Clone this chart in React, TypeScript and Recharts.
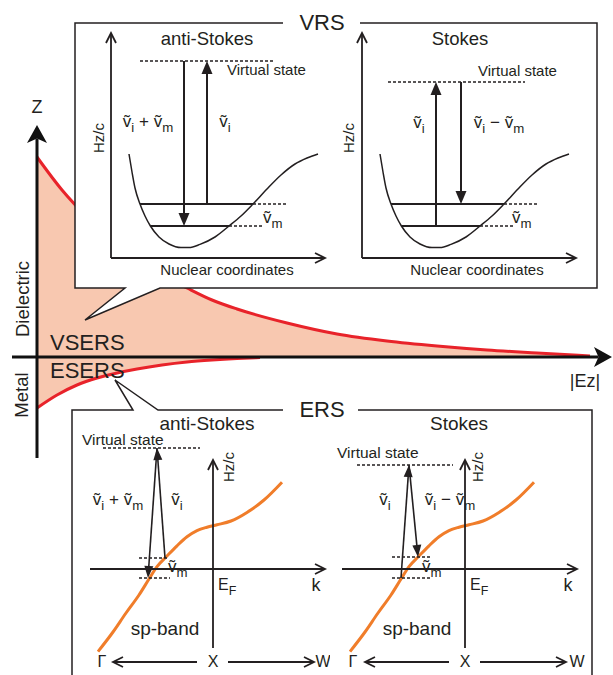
import React from 'react';
import { ComposedChart, LineChart, Area, Line, XAxis, YAxis, ReferenceLine, ReferenceDot } from 'recharts';

const INK = '#231f20';
const RED = '#e8232a';
const SALMON = '#f8c8b0';
const ORANGE = '#f07d2a';
const FONT = '"Liberation Sans", Arial, Helvetica, sans-serif';

// field profile |Ez| vs Z (dielectric side / metal side)
const dielectricX = [0, 0.25, 0.5, 0.75, 1.0, 1.25, 1.5, 1.75, 2.0, 2.5, 3.0, 3.5, 4.0, 4.5, 5.0, 5.53];
const dielectricZ = [2.0, 1.67, 1.4, 1.17, 0.98, 0.82, 0.69, 0.57, 0.48, 0.34, 0.23, 0.16, 0.11, 0.07, 0.04, 0.01];
const metalX = [0, 0.2, 0.4, 0.6, 0.8, 1.0, 1.25, 1.5, 1.75, 2.0, 2.23];
const metalZ = [-0.51, -0.38, -0.28, -0.21, -0.16, -0.12, -0.08, -0.05, -0.03, -0.015, -0.005];

// VRS: vibrational potential (nuclear coordinate vs Hz/c)
const potentialX = [0.9, 1.05, 1.2, 1.45, 1.7, 1.97, 2.4, 2.9, 3.5, 3.9, 4.45, 5.2, 5.9, 6.5, 7.1, 7.8, 8.5, 9.2, 9.8, 10.35];
const potentialY = [5.2, 4.3, 3.5, 2.7, 2.1, 1.6, 1.05, 0.7, 0.52, 0.52, 0.68, 1.05, 1.6, 2.1, 2.7, 3.45, 4.15, 4.7, 5.0, 5.2];
// vibrational levels v=0, v=1: energy, solid from, solid to, dashed to
const levelY = [1.6, 2.7];
const levelFrom = [1.97, 1.45];
const levelTo = [5.9, 7.1];
const levelDashTo = [7.55, 8.8];
// virtual state [energy, from, to]
const vrsAntiVirtual = [9.85, 1.45, 8.2];
const vrsStokesVirtual = [8.8, 1.3, 8.15];
// transitions [x, from energy, to energy]
const vrsAntiArrows = [[3.65, 9.85, 1.6], [4.8, 2.7, 9.85]];
const vrsStokesArrows = [[3.7, 1.6, 8.8], [4.95, 8.8, 2.7]];

// ERS: sp-band dispersion (k vs Hz/c)
const bandX = [-5.75, -5.0, -4.35, -3.7, -3.2, -2.8, -2.3, -1.8, -1.3, -0.8, -0.3, 0.2, 0.9, 1.7, 2.55, 3.45];
const bandY = [-4.13, -3.15, -2.2, -1.3, -0.5, 0.12, 0.65, 1.16, 1.61, 1.92, 2.09, 2.21, 2.4, 2.83, 3.45, 4.34];
// virtual state [energy, from, to]
const ersAntiVirtual = [6.05, -5.5, -0.65];
const ersStokesVirtual = [5.2, -5.4, -0.6];
// short dashed levels [energy, from, to]
const ersAntiLevels = [[0.55, -3.7, -2.25], [-0.45, -3.7, -2.15]];
const ersStokesLevels = [[0.6, -3.65, -1.75], [-0.45, -3.65, -1.75]];
// slanted transitions [x1, y1, x2, y2]
const ersAntiArrows = [[-2.8, 6.05, -3.25, -0.45], [-2.4, 0.55, -2.8, 6.05]];
const ersStokesArrows = [[-3.2, -0.45, -2.8, 5.2], [-2.8, 5.2, -2.35, 0.6]];

const zip = (xs: number[], ys: number[], k = 'y') => xs.map((x, i) => ({ x, [k]: ys[i] }));
const dielectric = zip(dielectricX, dielectricZ, 'z');
const metal = zip(metalX, metalZ, 'z');
const potential = zip(potentialX, potentialY);
const band = zip(bandX, bandY);

type Lbl = { t: string; x: number; y: number; s: number; a?: 'start' | 'middle' | 'end'; r?: boolean };

const NU = 'ṽ';

const mainLabels: Lbl[] = [
  { t: 'Z', x: 0, y: 2.44, s: 18, a: 'middle' },
  { t: '|Ez|', x: 5.48, y: -0.3, s: 18, a: 'middle' },
  { t: 'Dielectric', x: -0.15, y: 0.58, s: 18.5, a: 'middle', r: true },
  { t: 'Metal', x: -0.16, y: -0.38, s: 18.5, a: 'middle', r: true },
  { t: 'VSERS', x: 0.13, y: 0.07, s: 22 },
  { t: 'ESERS', x: 0.13, y: -0.21, s: 22 },
];

const vrsAntiLabels: Lbl[] = [
  { t: 'anti-Stokes', x: 4.8, y: 10.65, s: 18.5, a: 'middle' },
  { t: 'Virtual state', x: 5.8, y: 9.15, s: 15 },
  { t: `${NU}_i + ${NU}_m`, x: 1.85, y: 6.55, s: 17, a: 'middle' },
  { t: `${NU}_i`, x: 5.7, y: 6.55, s: 17, a: 'middle' },
  { t: `${NU}_m`, x: 7.6, y: 1.75, s: 17 },
  { t: 'Nuclear coordinates', x: 5.8, y: -0.85, s: 15, a: 'middle' },
  { t: 'Hz/c', x: -0.65, y: 6.0, s: 15, a: 'middle', r: true },
];

const vrsStokesLabels: Lbl[] = [
  { t: 'Stokes', x: 4.9, y: 10.65, s: 18.5, a: 'middle' },
  { t: 'Virtual state', x: 5.8, y: 9.1, s: 15 },
  { t: `${NU}_i`, x: 2.85, y: 6.5, s: 17, a: 'middle' },
  { t: `${NU}_i − ${NU}_m`, x: 6.85, y: 6.5, s: 17, a: 'middle' },
  { t: `${NU}_m`, x: 7.5, y: 1.75, s: 17 },
  { t: 'Nuclear coordinates', x: 5.75, y: -0.85, s: 15, a: 'middle' },
  { t: 'Hz/c', x: -0.7, y: 6.0, s: 15, a: 'middle', r: true },
];

const ersAntiLabels: Lbl[] = [
  { t: 'anti-Stokes', x: -0.3, y: 6.95, s: 19, a: 'middle' },
  { t: 'Virtual state', x: -6.55, y: 6.2, s: 15.5 },
  { t: `${NU}_i + ${NU}_m`, x: -4.75, y: 3.2, s: 17, a: 'middle' },
  { t: `${NU}_i`, x: -1.8, y: 3.2, s: 17, a: 'middle' },
  { t: `${NU}_m`, x: -2.25, y: -0.15, s: 17 },
  { t: 'E_F', x: 0.25, y: -1.05, s: 16 },
  { t: 'k', x: 5.15, y: -1.1, s: 18, a: 'middle' },
  { t: 'Hz/c', x: 0.75, y: 5.1, s: 15, a: 'middle', r: true },
  { t: 'sp-band', x: -2.4, y: -3.3, s: 19, a: 'middle' },
  { t: 'Γ', x: -5.55, y: -4.9, s: 16, a: 'middle' },
  { t: 'X', x: 0, y: -4.9, s: 16, a: 'middle' },
  { t: 'W', x: 5.5, y: -4.9, s: 16, a: 'middle' },
];

const ersStokesLabels: Lbl[] = [
  { t: 'Stokes', x: -0.3, y: 6.95, s: 19, a: 'middle' },
  { t: 'Virtual state', x: -6.4, y: 5.55, s: 15.5 },
  { t: `${NU}_i`, x: -4.0, y: 3.2, s: 17, a: 'middle' },
  { t: `${NU}_i − ${NU}_m`, x: -0.75, y: 3.2, s: 17, a: 'middle' },
  { t: `${NU}_m`, x: -2.15, y: -0.15, s: 17 },
  { t: 'E_F', x: 0.25, y: -1.05, s: 16 },
  { t: 'k', x: 5.15, y: -1.1, s: 18, a: 'middle' },
  { t: 'Hz/c', x: 0.6, y: 5.1, s: 15, a: 'middle', r: true },
  { t: 'sp-band', x: -2.4, y: -3.3, s: 19, a: 'middle' },
  { t: 'Γ', x: -5.6, y: -4.9, s: 16, a: 'middle' },
  { t: 'X', x: 0, y: -4.9, s: 16, a: 'middle' },
  { t: 'W', x: 5.6, y: -4.9, s: 16, a: 'middle' },
];

// text with "_x" subscripts
function rich(text: string, size: number) {
  const parts = text.split('_');
  const out: React.ReactNode[] = [<tspan key="p0">{parts[0]}</tspan>];
  const shift = size * 0.3;
  for (let i = 1; i < parts.length; i++) {
    out.push(<tspan key={'s' + i} dy={shift} fontSize={size * 0.78}>{parts[i][0]}</tspan>);
    const rest = parts[i].slice(1);
    if (rest) out.push(<tspan key={'r' + i} dy={-shift}>{rest}</tspan>);
  }
  return out;
}

function textShape(l: Lbl) {
  return (p: any) => {
    const { cx, cy } = p;
    return (
      <text
        x={cx}
        y={cy}
        fontSize={l.s}
        fontFamily={FONT}
        fill={INK}
        textAnchor={l.a || 'start'}
        dominantBaseline={l.r ? 'central' : 'alphabetic'}
        transform={l.r ? `rotate(-90 ${cx} ${cy})` : undefined}
      >
        {rich(l.t, l.s)}
      </text>
    );
  };
}

type Head = 'none' | 'filled' | 'open' | 'notch';

function lineShape(head: Head, width: number, color = INK, dash?: string, hl = 10, hw = 5) {
  return (p: any) => {
    const { x1, y1, x2, y2 } = p;
    const dx = x2 - x1;
    const dy = y2 - y1;
    const len = Math.hypot(dx, dy) || 1;
    const ux = dx / len;
    const uy = dy / len;
    const nx = -uy;
    const ny = ux;
    const bx = x2 - ux * hl;
    const by = y2 - uy * hl;
    let ex = x2;
    let ey = y2;
    let headEl: React.ReactNode = null;
    if (head === 'filled') {
      ex = bx + ux;
      ey = by + uy;
      headEl = <polygon points={`${x2},${y2} ${bx + nx * hw},${by + ny * hw} ${bx - nx * hw},${by - ny * hw}`} fill={color} />;
    } else if (head === 'notch') {
      const n = hl * 0.75;
      ex = x2 - ux * n;
      ey = y2 - uy * n;
      headEl = (
        <polygon
          points={`${x2},${y2} ${bx + nx * hw},${by + ny * hw} ${x2 - ux * n},${y2 - uy * n} ${bx - nx * hw},${by - ny * hw}`}
          fill={color}
        />
      );
    } else if (head === 'open') {
      headEl = (
        <polyline
          points={`${bx + nx * hw},${by + ny * hw} ${x2},${y2} ${bx - nx * hw},${by - ny * hw}`}
          fill="none"
          stroke={color}
          strokeWidth={width}
        />
      );
    }
    return (
      <g>
        <line x1={x1} y1={y1} x2={ex} y2={ey} stroke={color} strokeWidth={width} strokeDasharray={dash} />
        {headEl}
      </g>
    );
  };
}

const seg = (key: string, x1: number, y1: number, x2: number, y2: number, shape: any) => (
  <ReferenceLine
    key={key}
    segment={[{ x: x1, y: y1 }, { x: x2, y: y2 }]}
    ifOverflow="visible"
    shape={shape}
  />
);

const labels = (list: Lbl[], prefix: string) =>
  list.map((l, i) => (
    <ReferenceDot key={prefix + i} x={l.x} y={l.y} r={0} ifOverflow="visible" shape={textShape(l)} />
  ));

const axes = (xd: number[], yd: number[]) => [
  <XAxis key="xa" type="number" dataKey="x" domain={xd} hide allowDataOverflow />,
  <YAxis key="ya" type="number" domain={yd} hide allowDataOverflow />,
];

const DASH = '3 2';

function vrsPanel(virtual: number[], arrows: number[][], lbls: Lbl[], prefix: string) {
  const parts: React.ReactNode[] = [
    seg(prefix + 'ay', 0, 0, 0, 11.25, lineShape('open', 1.8, INK, undefined, 10, 5)),
    seg(prefix + 'ax', 0, 0, 10.7, 0, lineShape('open', 1.8, INK, undefined, 10, 5)),
  ];
  levelY.forEach((y, i) => {
    parts.push(seg(prefix + 'ls' + i, levelFrom[i], y, levelTo[i], y, lineShape('none', 1.8)));
    parts.push(seg(prefix + 'ld' + i, levelTo[i], y, levelDashTo[i], y, lineShape('none', 1.5, INK, DASH)));
  });
  parts.push(seg(prefix + 'vs', virtual[1], virtual[0], virtual[2], virtual[0], lineShape('none', 1.5, INK, DASH)));
  arrows.forEach((a, i) => {
    parts.push(seg(prefix + 'tr' + i, a[0], a[1], a[0], a[2], lineShape('filled', 2, INK, undefined, 13, 5.5)));
  });
  return parts.concat(labels(lbls, prefix + 'lb'));
}

function ersPanel(virtual: number[], lv: number[][], arrows: number[][], lbls: Lbl[], prefix: string) {
  const parts: React.ReactNode[] = [
    seg(prefix + 'ay', 0, -3.95, 0, 5.45, lineShape('open', 1.8, INK, undefined, 10, 5)),
    seg(prefix + 'ax', -6.15, 0, 5.6, 0, lineShape('open', 1.8, INK, undefined, 10, 5)),
    seg(prefix + 'gl', -0.8, -4.65, -5.0, -4.65, lineShape('open', 1.8, INK, undefined, 10, 5)),
    seg(prefix + 'gr', 0.75, -4.65, 5.05, -4.65, lineShape('open', 1.8, INK, undefined, 10, 5)),
    seg(prefix + 'vs', virtual[1], virtual[0], virtual[2], virtual[0], lineShape('none', 1.5, INK, DASH)),
  ];
  lv.forEach((l, i) => parts.push(seg(prefix + 'lv' + i, l[1], l[0], l[2], l[0], lineShape('none', 1.3, INK, DASH))));
  arrows.forEach((a, i) =>
    parts.push(seg(prefix + 'tr' + i, a[0], a[1], a[2], a[3], lineShape('filled', 1.6, INK, undefined, 12, 4.5))),
  );
  return parts.concat(labels(lbls, prefix + 'lb'));
}

const abs = (left: number, top: number, z: number): React.CSSProperties => ({ position: 'absolute', left, top, zIndex: z });

export default function App() {
  return (
    <div style={{ position: 'relative', width: 613, height: 675, overflow: 'hidden', background: '#fff' }}>
      <style>{'body{margin:0}'}</style>

      {/* near-field profile */}
      <div style={abs(0, 0, 0)}>
        <ComposedChart width={613} height={675} margin={{ top: 0, right: 0, bottom: 0, left: 0 }}>
          {axes([-0.37, 5.76], [-3.18, 3.57])}
          <Area data={dielectric} dataKey="z" type="monotone" baseValue={0} stroke={RED} strokeWidth={3} fill={SALMON} fillOpacity={1} isAnimationActive={false} />
          <Area data={metal} dataKey="z" type="monotone" baseValue={0} stroke={RED} strokeWidth={3} fill={SALMON} fillOpacity={1} isAnimationActive={false} />
          {seg('zaxis', 0, -1.01, 0, 2.32, lineShape('notch', 3, '#111', undefined, 18, 10))}
          {seg('eaxis', -0.25, 0, 5.75, 0, lineShape('notch', 3, '#111', undefined, 18, 10))}
          {labels(mainLabels, 'm')}
        </ComposedChart>
      </div>

      {/* inset frames */}
      <svg width={613} height={675} style={abs(0, 0, 1)}>
        <path d="M283 23 H75 V288 H125 L85 320 L160 288 H597 V23 H360" fill="#fff" stroke={INK} strokeWidth={1.5} />
        <text x={322} y={30} fontSize={22} fontFamily={FONT} textAnchor="middle" fill={INK}>VRS</text>
        <path d="M283 410 H158 L115 380 L133 410 H72 V690 H592 V410 H358" fill="#fff" stroke={INK} strokeWidth={1.5} />
        <text x={322} y={417} fontSize={22} fontFamily={FONT} textAnchor="middle" fill={INK}>ERS</text>
      </svg>

      {/* VRS anti-Stokes */}
      <div style={abs(84, 28, 2)}>
        <LineChart width={254} height={254} margin={{ top: 0, right: 0, bottom: 0, left: 0 }}>
          {axes([-1.35, 11.35], [-1.2, 11.5])}
          <Line data={potential} dataKey="y" type="monotone" stroke={INK} strokeWidth={1.5} dot={false} isAnimationActive={false} />
          {vrsPanel(vrsAntiVirtual, vrsAntiArrows, vrsAntiLabels, 'va')}
        </LineChart>
      </div>

      {/* VRS Stokes */}
      <div style={abs(335, 28, 2)}>
        <LineChart width={258} height={254} margin={{ top: 0, right: 0, bottom: 0, left: 0 }}>
          {axes([-1.35, 11.55], [-1.2, 11.5])}
          <Line data={potential} dataKey="y" type="monotone" stroke={INK} strokeWidth={1.5} dot={false} isAnimationActive={false} />
          {vrsPanel(vrsStokesVirtual, vrsStokesArrows, vrsStokesLabels, 'vs')}
        </LineChart>
      </div>

      {/* ERS anti-Stokes */}
      <div style={abs(75, 412, 2)}>
        <LineChart width={255} height={263} margin={{ top: 0, right: 0, bottom: 0, left: 0 }}>
          {axes([-6.9, 5.85], [-5.3, 7.85])}
          <Line data={band} dataKey="y" type="monotone" stroke={ORANGE} strokeWidth={3} dot={false} isAnimationActive={false} />
          {ersPanel(ersAntiVirtual, ersAntiLevels, ersAntiArrows, ersAntiLabels, 'ea')}
        </LineChart>
      </div>

      {/* ERS Stokes */}
      <div style={abs(335, 412, 2)}>
        <LineChart width={255} height={263} margin={{ top: 0, right: 0, bottom: 0, left: 0 }}>
          {axes([-6.5, 6.25], [-5.3, 7.85])}
          <Line data={band} dataKey="y" type="monotone" stroke={ORANGE} strokeWidth={3} dot={false} isAnimationActive={false} />
          {ersPanel(ersStokesVirtual, ersStokesLevels, ersStokesArrows, ersStokesLabels, 'es')}
        </LineChart>
      </div>
    </div>
  );
}
